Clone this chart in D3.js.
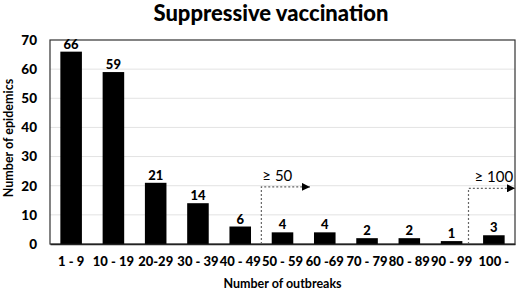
<!DOCTYPE html>
<html>
<head>
<meta charset="utf-8">
<script src="https://cdn.jsdelivr.net/npm/d3@7"></script>
<style>
  html, body { margin: 0; padding: 0; background: #fff; }
  svg { display: block; }
  text { font-family: Lato, "Open Sans", sans-serif; }
</style>
</head>
<body>
<svg id="chart" width="521" height="295"></svg>
<script>
const categories = ["1 - 9", "10 - 19", "20-29", "30 - 39", "40 - 49", "50 - 59", "60 -69", "70 - 79", "80 - 89", "90 - 99", "100 -"];
const values = [66, 59, 21, 14, 6, 4, 4, 2, 2, 1, 3];
const yTicks = [0, 10, 20, 30, 40, 50, 60, 70];
// annotations: label, start boundary (category index units), end (index units), level (data units)
const annLabels = ["\u2265 50", "\u2265 100"];
const annStart = [5, 9.9];
const annEnd = [6.15, 11];
const annLevel = [19.6, 19.1];

const W = 521, H = 295;
const m = { left: 50, right: 6, top: 40, bottom: 51 };
const svg = d3.select("#chart");

const x = d3.scaleBand().domain(categories).range([m.left, W - m.right]).paddingInner(0.49).paddingOuter(0.245);
const xb = d3.scaleLinear().domain([0, categories.length]).range([m.left, W - m.right]);
const y = d3.scaleLinear().domain([0, 70]).range([H - m.bottom, m.top]);

// gridlines
svg.append("g").selectAll("line").data(yTicks.filter(t => t > 0 && t < 70)).join("line")
  .attr("x1", m.left).attr("x2", W - m.right)
  .attr("y1", d => y(d)).attr("y2", d => y(d))
  .attr("stroke", "#e3e3e3").attr("stroke-width", 1);

// plot frame
svg.append("rect")
  .attr("x", m.left).attr("y", y(70))
  .attr("width", W - m.right - m.left).attr("height", y(0) - y(70))
  .attr("fill", "none").attr("stroke", "#333").attr("stroke-width", 1.2);

// bars
svg.append("g").selectAll("rect").data(values).join("rect")
  .attr("x", (d, i) => x(categories[i]))
  .attr("y", d => y(d))
  .attr("width", x.bandwidth())
  .attr("height", d => y(0) - y(d))
  .attr("fill", "#000");

// value labels
svg.append("g").selectAll("text").data(values).join("text")
  .attr("x", (d, i) => x(categories[i]) + x.bandwidth() / 2)
  .attr("y", d => y(d) - 3)
  .attr("text-anchor", "middle")
  .attr("font-size", 13).attr("font-weight", 900)
  .text(d => d);

// y axis
const yAxis = d3.axisLeft(y).tickValues(yTicks).tickSize(0).tickPadding(13);
const gy = svg.append("g").attr("transform", `translate(${m.left},0)`).call(yAxis);
gy.select(".domain").remove();
gy.selectAll("text").attr("font-size", 13.5).attr("font-weight", 900).attr("fill", "#000")
  .style("font-family", "Lato, sans-serif");

// x axis
const xAxis = d3.axisBottom(x).tickSize(0).tickPadding(13);
const gx = svg.append("g").attr("transform", `translate(0,${y(0)})`).call(xAxis);
gx.select(".domain").attr("stroke", "#222").attr("stroke-width", 1.5);
gx.selectAll("text").attr("font-size", 13).attr("font-weight", 900).attr("fill", "#000")
  .style("font-family", "Lato, sans-serif");

// annotations
svg.append("defs").append("marker")
  .attr("id", "arr").attr("viewBox", "0 0 10 10").attr("refX", 10).attr("refY", 5)
  .attr("markerWidth", 8).attr("markerHeight", 8).attr("markerUnits", "userSpaceOnUse").attr("orient", "auto")
  .append("path").attr("d", "M0,0 L10,5 L0,10 Z").attr("fill", "#000");

annLabels.forEach((lab, i) => {
  const x0 = xb(annStart[i]), x1 = xb(annEnd[i]), yy = y(annLevel[i]);
  svg.append("path")
    .attr("d", `M${x0},${y(0)} L${x0},${yy} L${x1},${yy}`)
    .attr("fill", "none").attr("stroke", "#666").attr("stroke-width", 1.2)
    .attr("stroke-dasharray", "2,2")
    .attr("marker-end", "url(#arr)");
  svg.append("text")
    .attr("x", x0 + (i === 0 ? 1 : 6)).attr("y", y(annLevel[i]) - 6)
    .attr("font-size", 15).attr("fill", "#000")
    .text(lab);
});

// titles
svg.append("text").attr("x", 271).attr("y", 21).attr("text-anchor", "middle")
  .attr("font-size", 22).attr("font-weight", 900).text("Suppressive vaccination");
svg.append("text").attr("x", (m.left + W - m.right) / 2).attr("y", 288).attr("text-anchor", "middle")
  .attr("font-size", 12.5).attr("font-weight", "bold").text("Number of outbreaks");
svg.append("text").attr("transform", `translate(13,${(y(0) + y(70)) / 2 - 4}) rotate(-90)`)
  .attr("text-anchor", "middle")
  .attr("font-size", 12.5).attr("font-weight", "bold").text("Number of epidemics");
</script>
</body>
</html>
